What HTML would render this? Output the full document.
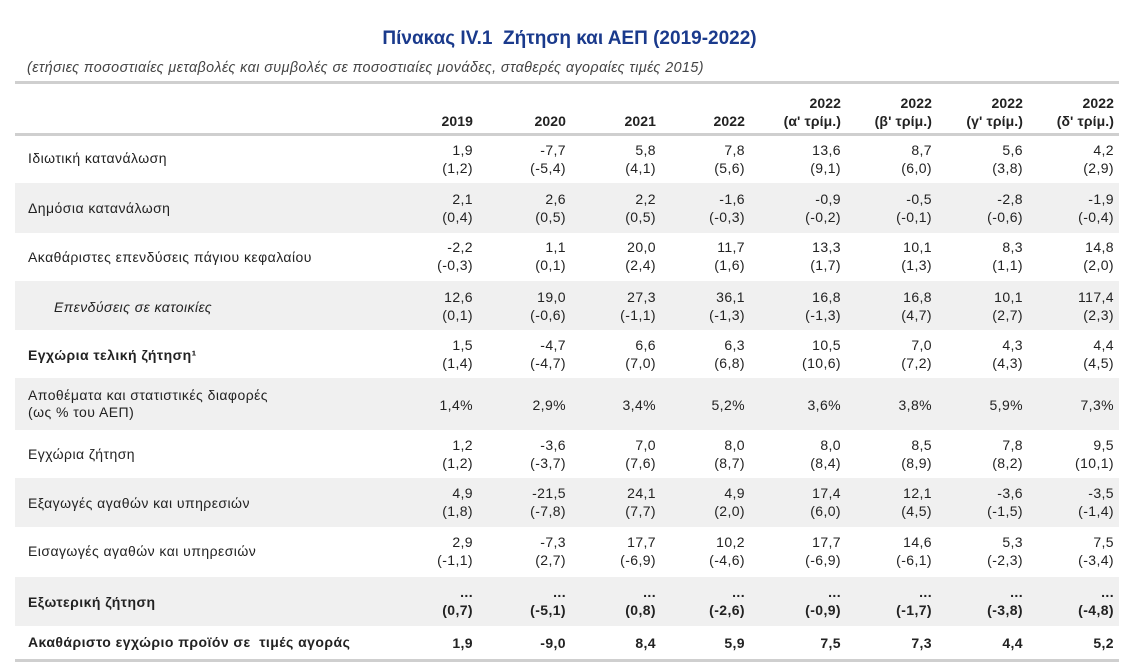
<!DOCTYPE html>
<html><head><meta charset="utf-8"><style>
body{margin:0;width:1139px;height:664px;background:#fff;position:relative;font-family:"Liberation Sans",Arial,sans-serif;color:#222;overflow:hidden}
.a{position:absolute}
.title{left:0;width:1139px;top:28px;text-align:center;font-size:19px;font-weight:bold;color:#1a3a8c}
.sub{left:27px;top:60px;font-size:14.3px;font-style:italic;color:#444;letter-spacing:0.44px;white-space:nowrap}
.rule{left:15px;width:1104px;height:3px;background:#cfcfcf}
.row{left:15px;width:1104px}
.g{background:#f0f0f0}
.lab{position:absolute;left:13px;font-size:14px;line-height:17px;letter-spacing:0.45px;white-space:nowrap}
.v{position:absolute;width:100px;text-align:right;font-size:14px;line-height:18px;letter-spacing:0.4px}
.h{letter-spacing:0.1px}
.b{font-weight:bold}
</style></head><body>
<div class="a title">Πίνακας IV.1&nbsp; Ζήτηση και ΑΕΠ (2019-2022)</div>
<div class="a sub">(ετήσιες ποσοστιαίες μεταβολές και συμβολές σε ποσοστιαίες μονάδες, σταθερές αγοραίες τιμές 2015)</div>
<div class="a rule" style="top:81px"></div>

<div class="a row" style="top:92px;height:40px">
<div class="v b h" style="left:358px;top:20px">2019</div>
<div class="v b h" style="left:451px;top:20px">2020</div>
<div class="v b h" style="left:541px;top:20px">2021</div>
<div class="v b h" style="left:630px;top:20px">2022</div>
<div class="v b h" style="left:726px;top:2px">2022<br>(α' τρίμ.)</div>
<div class="v b h" style="left:817px;top:2px">2022<br>(β' τρίμ.)</div>
<div class="v b h" style="left:908px;top:2px">2022<br>(γ' τρίμ.)</div>
<div class="v b h" style="left:999px;top:2px">2022<br>(δ' τρίμ.)</div>
</div>
<div class="a rule" style="top:133px"></div>

<div class="a row" style="top:136px;height:47px">
<div class="lab" style="top:14px">Ιδιωτική κατανάλωση</div>
<div class="v" style="left:358px;top:5px">1,9<br>(1,2)</div><div class="v" style="left:451px;top:5px">-7,7<br>(-5,4)</div><div class="v" style="left:541px;top:5px">5,8<br>(4,1)</div><div class="v" style="left:630px;top:5px">7,8<br>(5,6)</div><div class="v" style="left:726px;top:5px">13,6<br>(9,1)</div><div class="v" style="left:817px;top:5px">8,7<br>(6,0)</div><div class="v" style="left:908px;top:5px">5,6<br>(3,8)</div><div class="v" style="left:999px;top:5px">4,2<br>(2,9)</div>
</div>
<div class="a row g" style="top:183px;height:50px">
<div class="lab" style="top:17px">Δημόσια κατανάλωση</div>
<div class="v" style="left:358px;top:7px">2,1<br>(0,4)</div><div class="v" style="left:451px;top:7px">2,6<br>(0,5)</div><div class="v" style="left:541px;top:7px">2,2<br>(0,5)</div><div class="v" style="left:630px;top:7px">-1,6<br>(-0,3)</div><div class="v" style="left:726px;top:7px">-0,9<br>(-0,2)</div><div class="v" style="left:817px;top:7px">-0,5<br>(-0,1)</div><div class="v" style="left:908px;top:7px">-2,8<br>(-0,6)</div><div class="v" style="left:999px;top:7px">-1,9<br>(-0,4)</div>
</div>
<div class="a row" style="top:233px;height:48px">
<div class="lab" style="top:16px">Ακαθάριστες επενδύσεις πάγιου κεφαλαίου</div>
<div class="v" style="left:358px;top:5px">-2,2<br>(-0,3)</div><div class="v" style="left:451px;top:5px">1,1<br>(0,1)</div><div class="v" style="left:541px;top:5px">20,0<br>(2,4)</div><div class="v" style="left:630px;top:5px">11,7<br>(1,6)</div><div class="v" style="left:726px;top:5px">13,3<br>(1,7)</div><div class="v" style="left:817px;top:5px">10,1<br>(1,3)</div><div class="v" style="left:908px;top:5px">8,3<br>(1,1)</div><div class="v" style="left:999px;top:5px">14,8<br>(2,0)</div>
</div>
<div class="a row g" style="top:281px;height:49px">
<div class="lab" style="top:18px;left:39px;font-style:italic">Επενδύσεις σε κατοικίες</div>
<div class="v" style="left:358px;top:7px">12,6<br>(0,1)</div><div class="v" style="left:451px;top:7px">19,0<br>(-0,6)</div><div class="v" style="left:541px;top:7px">27,3<br>(-1,1)</div><div class="v" style="left:630px;top:7px">36,1<br>(-1,3)</div><div class="v" style="left:726px;top:7px">16,8<br>(-1,3)</div><div class="v" style="left:817px;top:7px">16,8<br>(4,7)</div><div class="v" style="left:908px;top:7px">10,1<br>(2,7)</div><div class="v" style="left:999px;top:7px">117,4<br>(2,3)</div>
</div>
<div class="a row" style="top:330px;height:48px">
<div class="lab b" style="top:17px">Εγχώρια τελική ζήτηση¹</div>
<div class="v" style="left:358px;top:6px">1,5<br>(1,4)</div><div class="v" style="left:451px;top:6px">-4,7<br>(-4,7)</div><div class="v" style="left:541px;top:6px">6,6<br>(7,0)</div><div class="v" style="left:630px;top:6px">6,3<br>(6,8)</div><div class="v" style="left:726px;top:6px">10,5<br>(10,6)</div><div class="v" style="left:817px;top:6px">7,0<br>(7,2)</div><div class="v" style="left:908px;top:6px">4,3<br>(4,3)</div><div class="v" style="left:999px;top:6px">4,4<br>(4,5)</div>
</div>
<div class="a row g" style="top:378px;height:52px">
<div class="lab" style="top:9px">Αποθέματα και στατιστικές διαφορές<br>(ως % του ΑΕΠ)</div>
<div class="v" style="left:358px;top:18px">1,4%</div><div class="v" style="left:451px;top:18px">2,9%</div><div class="v" style="left:541px;top:18px">3,4%</div><div class="v" style="left:630px;top:18px">5,2%</div><div class="v" style="left:726px;top:18px">3,6%</div><div class="v" style="left:817px;top:18px">3,8%</div><div class="v" style="left:908px;top:18px">5,9%</div><div class="v" style="left:999px;top:18px">7,3%</div>
</div>
<div class="a row" style="top:430px;height:48px">
<div class="lab" style="top:16px">Εγχώρια ζήτηση</div>
<div class="v" style="left:358px;top:6px">1,2<br>(1,2)</div><div class="v" style="left:451px;top:6px">-3,6<br>(-3,7)</div><div class="v" style="left:541px;top:6px">7,0<br>(7,6)</div><div class="v" style="left:630px;top:6px">8,0<br>(8,7)</div><div class="v" style="left:726px;top:6px">8,0<br>(8,4)</div><div class="v" style="left:817px;top:6px">8,5<br>(8,9)</div><div class="v" style="left:908px;top:6px">7,8<br>(8,2)</div><div class="v" style="left:999px;top:6px">9,5<br>(10,1)</div>
</div>
<div class="a row g" style="top:478px;height:49px">
<div class="lab" style="top:17px">Εξαγωγές αγαθών και υπηρεσιών</div>
<div class="v" style="left:358px;top:6px">4,9<br>(1,8)</div><div class="v" style="left:451px;top:6px">-21,5<br>(-7,8)</div><div class="v" style="left:541px;top:6px">24,1<br>(7,7)</div><div class="v" style="left:630px;top:6px">4,9<br>(2,0)</div><div class="v" style="left:726px;top:6px">17,4<br>(6,0)</div><div class="v" style="left:817px;top:6px">12,1<br>(4,5)</div><div class="v" style="left:908px;top:6px">-3,6<br>(-1,5)</div><div class="v" style="left:999px;top:6px">-3,5<br>(-1,4)</div>
</div>
<div class="a row" style="top:527px;height:50px">
<div class="lab" style="top:16px">Εισαγωγές αγαθών και υπηρεσιών</div>
<div class="v" style="left:358px;top:6px">2,9<br>(-1,1)</div><div class="v" style="left:451px;top:6px">-7,3<br>(2,7)</div><div class="v" style="left:541px;top:6px">17,7<br>(-6,9)</div><div class="v" style="left:630px;top:6px">10,2<br>(-4,6)</div><div class="v" style="left:726px;top:6px">17,7<br>(-6,9)</div><div class="v" style="left:817px;top:6px">14,6<br>(-6,1)</div><div class="v" style="left:908px;top:6px">5,3<br>(-2,3)</div><div class="v" style="left:999px;top:6px">7,5<br>(-3,4)</div>
</div>
<div class="a row g b" style="top:577px;height:49px">
<div class="lab" style="top:17px">Εξωτερική ζήτηση</div>
<div class="v" style="left:358px;top:6px">...<br>(0,7)</div><div class="v" style="left:451px;top:6px">...<br>(-5,1)</div><div class="v" style="left:541px;top:6px">...<br>(0,8)</div><div class="v" style="left:630px;top:6px">...<br>(-2,6)</div><div class="v" style="left:726px;top:6px">...<br>(-0,9)</div><div class="v" style="left:817px;top:6px">...<br>(-1,7)</div><div class="v" style="left:908px;top:6px">...<br>(-3,8)</div><div class="v" style="left:999px;top:6px">...<br>(-4,8)</div>
</div>
<div class="a row b" style="top:626px;height:32px">
<div class="lab" style="top:8px">Ακαθάριστο εγχώριο προϊόν σε&nbsp; τιμές αγοράς</div>
<div class="v" style="left:358px;top:8px">1,9</div><div class="v" style="left:451px;top:8px">-9,0</div><div class="v" style="left:541px;top:8px">8,4</div><div class="v" style="left:630px;top:8px">5,9</div><div class="v" style="left:726px;top:8px">7,5</div><div class="v" style="left:817px;top:8px">7,3</div><div class="v" style="left:908px;top:8px">4,4</div><div class="v" style="left:999px;top:8px">5,2</div>
</div>
<div class="a rule" style="top:659px"></div>
</body></html>
